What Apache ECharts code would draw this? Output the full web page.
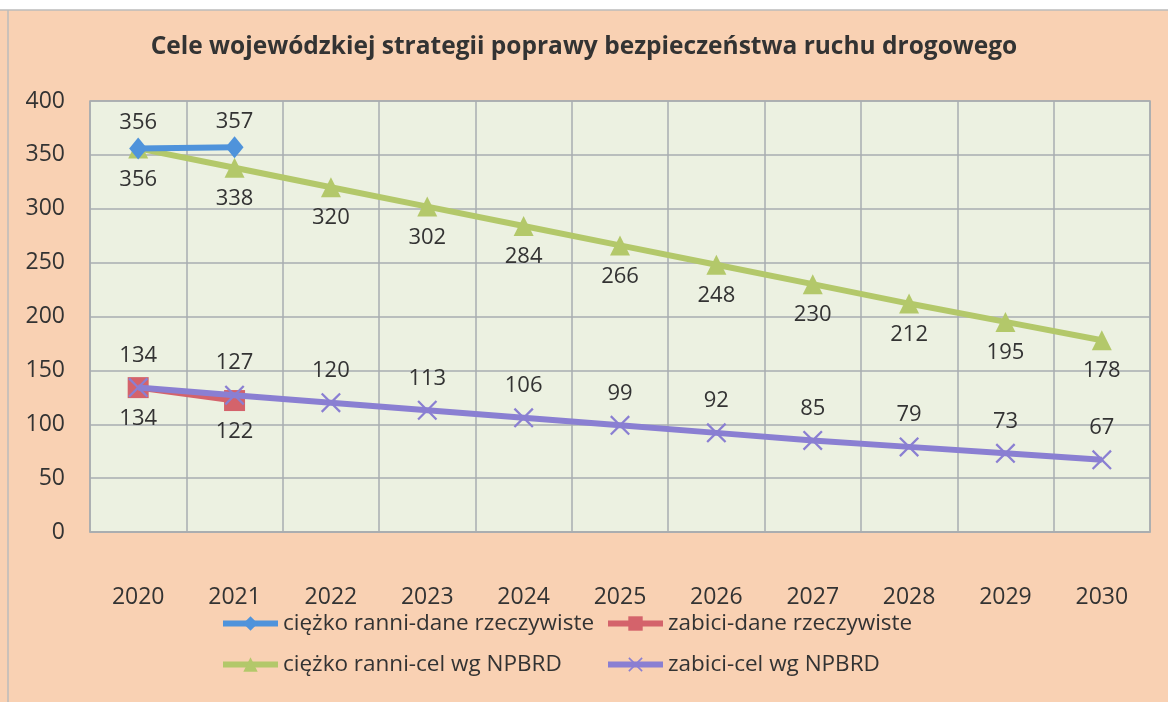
<!DOCTYPE html>
<html><head><meta charset="utf-8">
<script src="https://cdn.jsdelivr.net/npm/echarts@6/dist/echarts.min.js"></script>
<style>html,body{margin:0;padding:0;background:#fff}#c{width:1168px;height:702px}</style>
</head><body><div id="c"></div>
<script>
const title = 'Cele wojewódzkiej strategii poprawy bezpieczeństwa ruchu drogowego';
const years = ['2020','2021','2022','2023','2024','2025','2026','2027','2028','2029','2030'];
const yTicks = [0,50,100,150,200,250,300,350,400];
const seriesNames = ['ciężko ranni-dane rzeczywiste','zabici-dane rzeczywiste','ciężko ranni-cel wg NPBRD','zabici-cel wg NPBRD'];
const rannyReal = [356,357];
const zabiciReal = [134,122];
const rannyCel = [356,338,320,302,284,266,248,230,212,195,178];
const zabiciCel = [134,127,120,113,106,99,92,85,79,73,67];

const font = 'Open Sans';
const xPath = 'path://M0,0.8L0.8,0L5,4.2L9.2,0L10,0.8L5.8,5L10,9.2L9.2,10L5,5.8L0.8,10L0,9.2L4.2,5Z';
const lbl = (pos, d) => ({show:true, position:pos, distance:d, color:'#333', fontSize:22, fontFamily:font});

const chart = echarts.init(document.getElementById('c'), null, {renderer:'canvas'});
const legendPos = [[215,607],[600,607],[215,648],[600,648]];
const colors = ['#4f93db','#d4636b','#b3c86a','#8a7fd2'];
chart.setOption({
  backgroundColor:'#f9d1b3',
  animation:false,
  title:{text:title, left:'center', top:30, textStyle:{fontFamily:font, fontSize:24.5, fontWeight:'bold', color:'#333'}},
  grid:{left:90, right:18, top:101, bottom:170, show:true, backgroundColor:'#ecf1e1', borderColor:'#a9adb0', borderWidth:1.5},
  legend: seriesNames.map((n,i)=>({data:[n], left:legendPos[i][0], top:legendPos[i][1], itemWidth:55, itemHeight:18,
     lineStyle:{width:6}, textStyle:{fontFamily:font, fontSize:22.5, color:'#333'}, itemGap:3})),
  xAxis:{type:'category', data:years, boundaryGap:true,
    axisLine:{lineStyle:{color:'#a9adb0', width:1.5}}, axisTick:{show:false},
    splitLine:{show:true, interval:0, lineStyle:{color:'#a9adb0', width:1.5}},
    axisLabel:{fontFamily:font, fontSize:23, color:'#333', margin:54, interval:0}},
  yAxis:{type:'value', min:0, max:400, interval:50,
    axisLine:{show:false}, axisTick:{show:false},
    splitLine:{lineStyle:{color:'#a9adb0', width:1.5}},
    axisLabel:{fontFamily:font, fontSize:23, color:'#333', margin:25}},
  graphic:[
    {type:'rect', shape:{x:0,y:0,width:1168,height:10}, style:{fill:'#fff'}, z:100},
    {type:'line', shape:{x1:0,y1:10,x2:1168,y2:10}, style:{stroke:'#bbb', lineWidth:1.5}, z:100},
    {type:'line', shape:{x1:8,y1:10,x2:8,y2:702}, style:{stroke:'#bbb', lineWidth:1.5}, z:100}
  ],
  series:[
    {name:seriesNames[2], type:'line', data:rannyCel, symbol:'triangle', symbolSize:20,
     lineStyle:{color:colors[2], width:6}, itemStyle:{color:colors[2]}, label:lbl('bottom',10), z:2},
    {name:seriesNames[3], type:'line', data:zabiciCel, symbol:xPath, symbolSize:20,
     lineStyle:{color:colors[3], width:6}, itemStyle:{color:colors[3]}, label:lbl('top',11), z:3},
    {name:seriesNames[0], type:'line', data:rannyReal, symbol:'diamond', symbolSize:[18,22],
     lineStyle:{color:colors[0], width:6}, itemStyle:{color:colors[0]}, label:lbl('top',4), z:4},
    {name:seriesNames[1], type:'line', data:zabiciReal, symbol:'rect', symbolSize:21,
     lineStyle:{color:colors[1], width:6}, itemStyle:{color:colors[1]}, label:lbl('bottom',10), z:1}
  ]
});
</script></body></html>
